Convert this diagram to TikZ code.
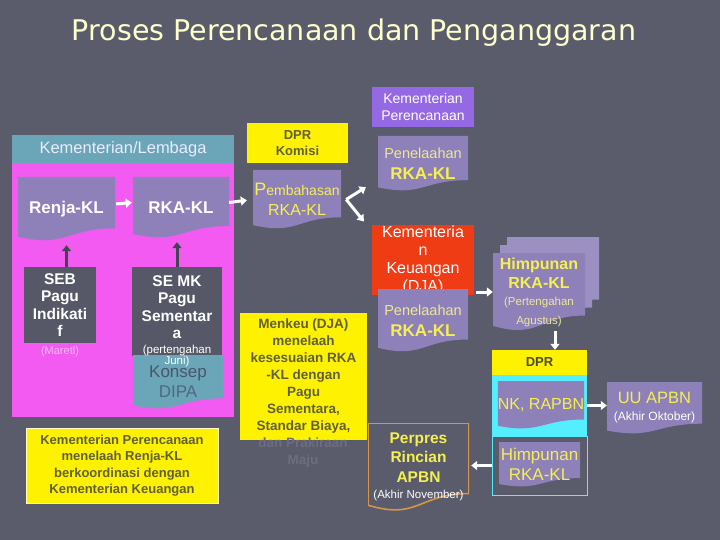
\documentclass[tikz,border=0pt]{standalone}
\usepackage{fontspec}
\setmainfont{Liberation Sans}
\newfontfamily\titlefont{DejaVu Sans}
\usepackage{tikz}
\usetikzlibrary{arrows.meta, calc}

\definecolor{slate}{RGB}{90,92,108}
\definecolor{titlecream}{RGB}{255,255,204}
\definecolor{klteal}{RGB}{106,166,184}
\definecolor{klpink}{RGB}{242,90,242}
\definecolor{docpurple}{RGB}{142,128,184}
\definecolor{sebgrey}{RGB}{86,88,104}
\definecolor{darkarrow}{RGB}{66,68,82}
\definecolor{maretpink}{RGB}{245,185,245}
\definecolor{konsepgrey}{RGB}{74,86,102}
\definecolor{dipagrey}{RGB}{80,105,125}
\definecolor{olive}{RGB}{96,96,56}
\definecolor{kpviolet}{RGB}{150,105,228}
\definecolor{keured}{RGB}{240,60,20}
\definecolor{txtyellow}{RGB}{245,240,80}
\definecolor{paleyellow}{RGB}{236,232,150}
\definecolor{perpresorange}{RGB}{212,150,74}
\definecolor{dprcyan}{RGB}{85,238,255}
\definecolor{faintgrey}{RGB}{108,110,126}

\newcommand{\fsz}[2]{\fontsize{#1}{#2}\selectfont}

\tikzset{
    sz/.style 2 args={minimum width=#1pt, minimum height=#2pt},
    box/.style={rectangle, inner sep=1pt, align=center},
    yellowbox/.style={box, fill=yellow, text=olive, font=\bfseries\fsz{13}{16.5}},
    doc/.style={rectangle, inner sep=0pt, align=center,
        path picture={
            \fill[#1] let \p1=(path picture bounding box.south west),
                \p2=(path picture bounding box.north east),
                \n1={\y2-\y1}, \n2={\x2-\x1} in
                (\x1,\y2) -- (\x2,\y2) -- (\x2,\y1+0.198*\n1)
                .. controls (\x1+0.5*\n2,\y1+0.198*\n1) and (\x1+0.5*\n2,\y1-0.107*\n1)
                .. (\x1,\y1+0.066*\n1) -- cycle;
        }},
    doc/.default=docpurple,
    docline/.style={rectangle, inner sep=0pt, align=center,
        path picture={
            \draw[#1, line width=1.6pt] let \p1=(path picture bounding box.south west),
                \p2=(path picture bounding box.north east),
                \n1={\y2-\y1}, \n2={\x2-\x1} in
                (\x1,\y2) -- (\x2,\y2) -- (\x2,\y1+0.198*\n1)
                .. controls (\x1+0.5*\n2,\y1+0.198*\n1) and (\x1+0.5*\n2,\y1-0.107*\n1)
                .. (\x1,\y1+0.066*\n1) -- cycle;
        }},
    arr/.style={-{Triangle[length=6pt,width=9pt]}, line width=3pt, draw=white},
    uparr/.style={arr, draw=darkarrow}
}

\begin{document}
\begin{tikzpicture}[x=1pt, y=-1pt]
    \useasboundingbox[fill=slate] (0,0) rectangle (720,540);
    \node[text=titlecream, font=\titlefont\fsz{28.5}{30}] (title) at (354,33) {Proses Perencanaan dan Penganggaran};

    % Kementerian/Lembaga
    \node[box, sz={222}{28}, fill=klteal, text=white!92!blue, font=\fsz{16.5}{18}] (kl) at (123,149) {Kementerian/Lembaga};
    \node[box, sz={222}{254}, fill=klpink] (klbody) at (123,290) {};
    \node[doc, sz={97}{64}, text=white, font=\bfseries\fsz{17}{20}] (renja) at (66.5,209) {Renja-KL};
    \node[doc, sz={96}{61}, text=white, font=\bfseries\fsz{17}{20}] (rka) at (181,207.5) {RKA-KL};
    \node[box, sz={72}{76}, fill=sebgrey, text=white, font=\bfseries\fsz{15.5}{17.5}] (seb) at (60,305) {SEB\\Pagu\\Indikati\\f};
    \node[text=maretpink, font=\fsz{11}{13}] (maret) at (60,352) {(Maretl)};
    \node[box, sz={90}{89}, fill=sebgrey] (semk) at (177,311.5) {};
    \node[text=white, font=\bfseries\fsz{15.5}{17.5}, align=center] (semktxt) at (177,307) {SE MK\\Pagu\\Sementar\\a};
    \node[doc=klteal, sz={90}{54}, text=dipagrey, font=\fsz{17}{20}] (dipa) at (178,382) {\textcolor{konsepgrey}{Konsep}\\DIPA};
    \node[text=white, font=\fsz{11.5}{11.5}, align=center] (juni) at (177,356) {(pertengahan\\Juni)};
    \node[yellowbox, sz={192}{75}, draw=white!75!yellow, line width=0.8pt] (kpnote) at (122,465.5)
        {Kementerian Perencanaan\\menelaah Renja-KL\\berkoordinasi dengan\\Kementerian Keuangan};

    \draw[arr, shorten <=1pt, shorten >=1pt] ([yshift=5pt]renja.east) -- ([yshift=5pt]rka.west);
    \draw[uparr, shorten >=4pt] (seb.north -| renja.south) -- (renja.south);
    \draw[uparr, shorten >=4pt] (semk.north -| semktxt.north) -- (semktxt.north |- rka.south);

    % DPR Komisi
    \node[yellowbox, sz={101}{40}, font=\bfseries\fsz{13}{16}] (komisi) at (297.5,143) {DPR\\Komisi};
    \node[doc, sz={88}{59}, text=txtyellow, font=\fsz{14}{20}] (pemb) at (297,199.5)
        {{\fsz{18}{20}P}embahasan\\{\fsz{16}{20}RKA-KL}};
    \draw[arr, shorten >=6pt] ([yshift=5pt]rka.east) -- (pemb.west);
    \node[yellowbox, sz={127}{127}, font=\bfseries\fsz{13.5}{17}] (menkeu) at (303.5,376.5)
        {Menkeu (DJA)\\menelaah\\kesesuaian RKA\\-KL dengan\\Pagu\\Sementara,\\Standar Biaya,};
    \node[text=faintgrey, font=\bfseries\fsz{13.5}{17}, align=center] (maju) at (303,453) {dan Prakiraan\\Maju};

    % Kementerian Perencanaan / Keuangan
    \node[box, sz={102}{40}, fill=kpviolet, text=white, font=\fsz{14}{17}] (kp) at (423,107) {Kementerian\\Perencanaan};
    \node[doc, sz={90}{55}, text=paleyellow, font=\fsz{14.5}{21}] (pen1) at (423,163.5)
        {Penelaahan\\{\bfseries\color{txtyellow}\fsz{17}{21}RKA-KL}};
    \node[box, sz={102}{66}, fill=keured, text=white, font=\fsz{16}{18}] (keu) at (423,260)
        {Kementeria\\n\\Keuangan\\(DJA)};
    \node[doc, sz={90}{63}, text=paleyellow, font=\fsz{14.5}{21}] (pen2) at (423,320.5)
        {Penelaahan\\{\bfseries\color{txtyellow}\fsz{17}{21}RKA-KL}};
    \coordinate (fork) at ([xshift=5pt]pemb.east);
    \draw[arr] (fork) -- ([xshift=-12pt,yshift=4pt]pen1.south west);
    \draw[arr] (fork) -- ([xshift=-8pt,yshift=3pt]keu.north west);
    \node[docline=perpresorange, sz={101}{88}, text=txtyellow, font=\bfseries\fsz{15.5}{19.5}] (perpres) at (418.5,467)
        {Perpres\\Rincian\\APBN\\[-3pt]{\mdseries\color{white}\fsz{11.5}{14}(Akhir November)}};

    % Himpunan RKA-KL
    \foreach \k in {2,1}
        \node[doc=docpurple!88!white, sz={92}{78}] (himb\k) at ({539+7*\k},{292-8*\k}) {};
    \node[doc, sz={92}{78}, text=txtyellow, font=\bfseries\fsz{16}{19}] (him1) at (539,292)
        {Himpunan\\RKA-KL\\[-2pt]{\mdseries\color{paleyellow}\fsz{11.5}{14}(Pertengahan}\\{\mdseries\color{paleyellow}\fsz{11.5}{14}Agustus)}};
    \draw[arr, shorten <=2pt] (keu.east |- him1.west) -- (him1.west);

    % DPR
    \node[yellowbox, sz={95}{25}, text=olive!80!black] (dprhead) at (539.5,362.5) {DPR};
    \draw[arr] ([xshift=16pt]him1.south) -- ([xshift=16pt]him1.south |- dprhead.north);
    \node[box, sz={95}{61}, fill=dprcyan] (dprnk) at (539.5,405.5) {};
    \node[doc, sz={86}{48}, text=txtyellow, font=\fsz{16}{19}] (nk) at (541,405) {NK, RAPBN};
    \node[box, sz={95}{59}, draw=dprcyan, line width=0.8pt] (dprlow) at (539.5,465.5) {};
    \node[doc, sz={81}{45}, text=txtyellow, font=\fsz{17}{20}] (himdpr) at (539.5,464.5) {Himpunan\\RKA-KL};
    \draw[arr, shorten >=2pt] (dprlow.west) -- (perpres.east |- dprlow.west);

    % UU APBN
    \node[doc, sz={95}{52}, text=txtyellow, font=\fsz{16.5}{17}] (uu) at (654.5,408)
        {UU APBN\\{\color{white}\fsz{12}{14}(Akhir Oktober)}};
    \draw[arr] (dprnk.east) -- (uu.west |- dprnk.east);
\end{tikzpicture}
\end{document}
